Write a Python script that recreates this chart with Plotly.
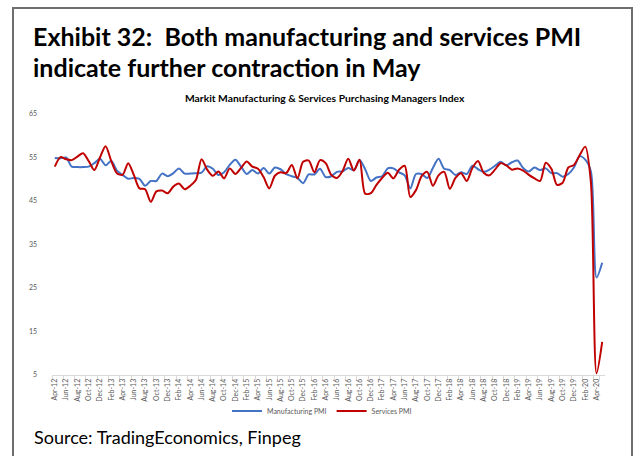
import plotly.graph_objects as go

# Monthly index readings, Apr-2012 .. May-2020
months = []
_names = ["Jan", "Feb", "Mar", "Apr", "May", "Jun", "Jul", "Aug", "Sep", "Oct", "Nov", "Dec"]
for yr in range(2012, 2021):
    for m in range(12):
        if yr == 2012 and m < 3:
            continue
        if yr == 2020 and m > 4:
            break
        months.append(f"{_names[m]}-{str(yr)[2:]}")

manufacturing_pmi = [
    54.9, 54.8, 55.0, 52.9, 52.8, 52.8, 52.9, 53.7, 54.7,                # 2012 Apr-Dec
    53.2, 54.2, 52.0, 51.0, 50.1, 50.3, 50.1, 48.5, 49.6, 49.6, 51.3, 50.7,  # 2013
    51.4, 52.5, 51.3, 51.3, 51.4, 51.5, 53.0, 52.4, 51.0, 51.6, 53.3, 54.5,  # 2014
    52.9, 51.2, 52.1, 51.3, 52.6, 51.3, 52.7, 52.3, 51.2, 50.7, 50.3, 49.1,  # 2015
    51.1, 51.1, 52.4, 50.5, 50.7, 51.7, 51.8, 52.6, 52.1, 54.4, 52.3, 49.6,  # 2016
    50.4, 50.7, 52.5, 52.5, 51.6, 50.9, 47.9, 51.2, 51.2, 50.3, 52.6, 54.7,  # 2017
    52.4, 52.1, 51.0, 51.6, 51.2, 53.1, 52.3, 51.7, 52.2, 53.1, 54.0, 53.2,  # 2018
    53.9, 54.3, 52.6, 51.8, 52.7, 52.1, 52.5, 51.4, 51.4, 50.6, 51.2, 52.7,  # 2019
    55.3, 54.5, 51.8, 27.4, 30.8,                                        # 2020 Jan-May
]

services_pmi = [
    52.9, 55.1, 54.6, 54.4, 55.2, 56.0, 54.2, 52.1, 55.0,                # 2012 Apr-Dec
    57.6, 54.2, 51.4, 51.0, 53.7, 51.0, 47.9, 47.7, 44.8, 47.2, 47.4, 46.8,  # 2013
    48.3, 49.0, 47.7, 48.5, 49.8, 54.6, 52.2, 50.8, 51.8, 50.2, 52.5, 51.2,  # 2014
    52.6, 54.1, 52.9, 52.4, 50.5, 47.9, 50.8, 51.6, 51.4, 53.3, 50.2, 54.0,  # 2015
    54.3, 51.6, 54.4, 53.7, 51.0, 50.3, 51.9, 54.7, 52.0, 54.5, 46.7, 46.8,  # 2016
    48.7, 50.3, 51.5, 50.2, 52.2, 53.1, 45.9, 47.5, 50.7, 51.7, 48.5, 50.9,  # 2017
    51.7, 47.8, 50.3, 51.4, 49.6, 52.6, 54.2, 51.5, 50.9, 52.2, 53.7, 53.2,  # 2018
    52.2, 52.5, 52.0, 51.0, 50.2, 49.6, 53.8, 52.4, 48.7, 49.2, 52.7, 53.3,  # 2019
    55.5, 57.5, 49.3, 5.4, 12.6,                                         # 2020 Jan-May
]

tick_labels = months[::2]
y_ticks = [5, 15, 25, 35, 45, 55, 65]

# Plot-area geometry in pixels (page is 636 x 456)
W, H = 636, 456
L, R, T, B = 52, 605, 114, 375


def px(x):
    return (x - L) / (R - L)


def py(y):
    return (B - y) / (B - T)


fig = go.Figure()
fig.add_trace(go.Scatter(
    x=months, y=manufacturing_pmi, name="Manufacturing PMI", mode="lines",
    line=dict(color="#4472C4", width=2, shape="spline", smoothing=0.8),
))
fig.add_trace(go.Scatter(
    x=months, y=services_pmi, name="Services PMI", mode="lines",
    line=dict(color="#C00000", width=2, shape="spline", smoothing=0.8),
))

title_font = dict(family="Lato", size=25, color="#000000")
fig.add_annotation(text="<b>Exhibit 32:  Both manufacturing and services PMI</b>",
                   xref="paper", yref="paper", x=px(31), y=py(36),
                   xanchor="left", yanchor="middle", showarrow=False, font=title_font)
fig.add_annotation(text="<b>indicate further contraction in May</b>",
                   xref="paper", yref="paper", x=px(31), y=py(67),
                   xanchor="left", yanchor="middle", showarrow=False, font=title_font)
fig.add_annotation(text="<b>Markit Manufacturing & Services Purchasing Managers Index</b>",
                   xref="paper", yref="paper", x=px(325), y=py(98),
                   xanchor="center", yanchor="middle", showarrow=False,
                   font=dict(family="Lato", size=10.3, color="#000000"))
fig.add_annotation(text="Source: TradingEconomics, Finpeg",
                   xref="paper", yref="paper", x=px(32), y=py(437),
                   xanchor="left", yanchor="middle", showarrow=False,
                   font=dict(family="Lato", size=18, color="#000000"))

# Outer frame around the exhibit
fig.add_shape(type="rect", xref="paper", yref="paper",
              x0=px(13), x1=px(632), y0=py(470), y1=py(8),
              line=dict(color="#6e6e6e", width=2), fillcolor="rgba(0,0,0,0)", layer="above")

fig.update_layout(
    width=W, height=H,
    margin=dict(l=L, r=W - R, t=T, b=H - B, pad=0),
    paper_bgcolor="white", plot_bgcolor="white",
    showlegend=True,
    legend=dict(orientation="h", x=px(322), y=py(411), xanchor="center", yanchor="middle",
                font=dict(family="Lato", size=7, color="#595959"),
                itemwidth=30, bgcolor="rgba(0,0,0,0)"),
    xaxis=dict(type="category", categoryorder="array", categoryarray=months,
               tickmode="array", tickvals=tick_labels, ticktext=tick_labels,
               tickangle=-90, tickfont=dict(family="Lato", size=7, color="#595959"),
               showline=True, linecolor="#d9d9d9", linewidth=1,
               ticks="outside", ticklen=4, tickcolor="#d9d9d9", tickson="boundaries",
               showgrid=False, zeroline=False, range=[-0.5, len(months) - 0.5]),
    yaxis=dict(range=[5, 65], tickvals=y_ticks, showgrid=False, zeroline=False,
               showline=False, ticks="", ticklabelstandoff=14,
               tickfont=dict(family="Lato", size=7, color="#595959")),
)

fig.write_html("out.html")
